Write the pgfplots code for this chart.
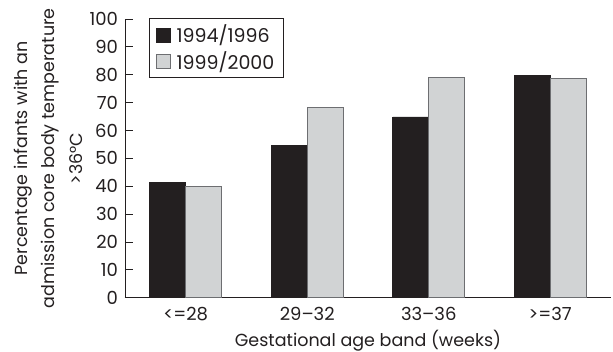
\documentclass[border=0pt]{standalone}
\usepackage{pgfplots}
\pgfplotsset{compat=1.18}
\usepackage{fontspec}
\setmainfont{Poppins}
\definecolor{darkbar}{HTML}{231F20}
\definecolor{lightbar}{HTML}{D1D3D4}
\definecolor{lightedge}{HTML}{6D6E71}
\begin{document}
\fontsize{17.5}{28}\selectfont
\begin{tikzpicture}
\path[use as bounding box] (-125pt,-54.3pt) rectangle (488pt,297.7pt);
\begin{axis}[
  at={(0pt,0pt)}, anchor=south west,
  scale only axis, width=486pt, height=278.7pt,
  xmin=-0.5, xmax=3.5, ymin=0, ymax=100,
  axis x line*=bottom, axis y line*=left,
  axis line style={darkbar, line width=0.9pt},
  ybar=0pt, bar width=36pt,
  xtick={0,1,2,3},
  xticklabels={<=28, 29--32, 33--36, >=37},
  major x tick style={draw=none},
  extra x ticks={0.5,1.5,2.5,3.5},
  extra x tick labels={},
  extra x tick style={major tick length=8pt, tick style={darkbar, line width=0.9pt}},
  ytick={0,10,...,100},
  major tick length=8pt,
  tick align=inside,
  tick style={darkbar, line width=0.9pt},
  /pgf/number format/assume math mode=true,
  tick label style={font=\fontsize{18}{20}\selectfont, text=darkbar},
  yticklabel style={xshift=-1pt},
  xticklabel style={anchor=base, yshift=-23pt},
  xlabel={Gestational age band (weeks)},
  xlabel style={at={(axis description cs:0.5,-0.176)}, anchor=base, font=\fontsize{17.5}{20}\selectfont, text=darkbar},
  ylabel={Percentage infants with an\\admission core body temperature\\>36°C},
  ylabel style={at={(axis description cs:-0.158,0.5)}, anchor=center, rotate=0, align=center, font=\fontsize{17.5}{27.5}\selectfont, text=darkbar},
  legend style={at={(axis description cs:0.049,1.002)}, anchor=north west,
    draw=darkbar, line width=0.9pt, font=\fontsize{19}{21}\selectfont, text=darkbar,
    inner xsep=7pt, inner ysep=4pt, row sep=2pt, cells={anchor=west}},
  legend image code/.code={\draw[#1, line width=0.6pt] (0pt,-7pt) rectangle (14pt,7pt); \path[draw=none, fill=none] (18pt,0pt) circle (0pt);},
]
\addplot[fill=darkbar, draw=darkbar, line width=0.6pt] coordinates {(0,41.3) (1,54.7) (2,64.9) (3,79.9)};
\addplot[fill=lightbar, draw=lightedge, line width=0.9pt] coordinates {(0,40.0) (1,68.1) (2,78.9) (3,78.7)};
\legend{1994/1996, 1999/2000}
\end{axis}
\end{tikzpicture}
\end{document}
